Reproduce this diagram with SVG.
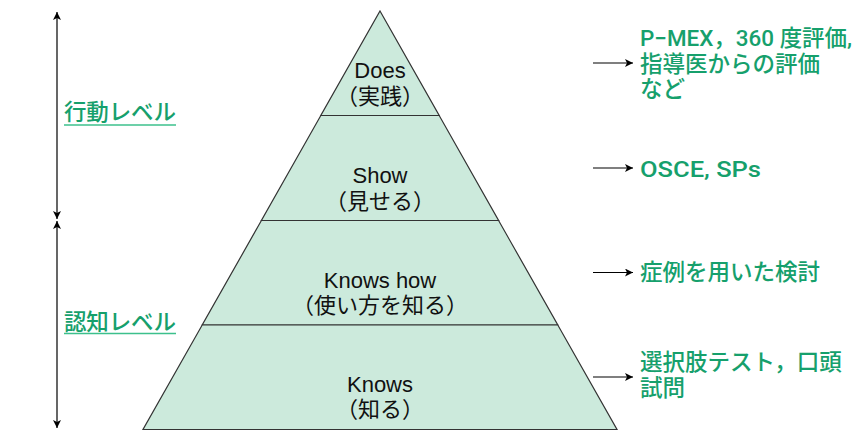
<svg xmlns="http://www.w3.org/2000/svg" width="855" height="431" viewBox="0 0 855 431">
<defs>
<marker id="ah" viewBox="0 0 10 10" refX="10" refY="5" markerWidth="8" markerHeight="8" markerUnits="userSpaceOnUse" orient="auto-start-reverse">
<path d="M0,0 L10,5 L0,10 L2.5,5 z" fill="#000"/>
</marker>
</defs>
<style>
.layer{fill:#cceadc;stroke:#333;stroke-width:1.2;stroke-linejoin:miter}
.lt{font-family:"Liberation Sans","Noto Sans CJK JP",sans-serif;font-size:22px;fill:#111;text-anchor:middle}
.gt{font-family:"Roboto","Noto Sans CJK JP",sans-serif;font-size:22.5px;fill:#16a06c;font-weight:500}
.ul{stroke:#3cc08c;stroke-width:1.3}
.con{stroke:#000;stroke-width:1.2;fill:none}
</style>
<rect width="855" height="431" fill="#fff"/>
<g id="layer-does">
<polygon class="layer" points="380,11 439.2,115.5 320.8,115.5"/>
<text class="lt" x="380" y="78">Does</text>
<text class="lt" x="380" y="104">（実践）</text>
</g>
<g id="layer-show">
<polygon class="layer" points="320.8,115.5 439.2,115.5 498.6,220.5 261.4,220.5"/>
<text class="lt" x="380" y="183">Show</text>
<text class="lt" x="380" y="208.5">（見せる）</text>
</g>
<g id="layer-knowshow">
<polygon class="layer" points="261.4,220.5 498.6,220.5 557.8,325 202.2,325"/>
<text class="lt" x="380" y="288">Knows how</text>
<text class="lt" x="380" y="313">（使い方を知る）</text>
</g>
<g id="layer-knows">
<polygon class="layer" points="202.2,325 557.8,325 617,429.5 143,429.5"/>
<text class="lt" x="380" y="392">Knows</text>
<text class="lt" x="380" y="417">（知る）</text>
</g>
<g id="label-action">
<text class="gt" x="64" y="120" textLength="112">行動レベル</text>
<line class="ul" x1="64" y1="125" x2="176" y2="125"/>
</g>
<g id="label-cognition">
<text class="gt" x="64" y="330" textLength="112">認知レベル</text>
<line class="ul" x1="64" y1="333.5" x2="176" y2="333.5"/>
</g>
<g id="eval-does">
<text class="gt" x="640" y="46" textLength="212" lengthAdjust="spacingAndGlyphs">P−MEX，360 度評価,</text>
<text class="gt" x="640" y="72">指導医からの評価</text>
<text class="gt" x="640" y="97">など</text>
</g>
<g id="eval-show">
<text class="gt" x="640" y="177" textLength="121" lengthAdjust="spacingAndGlyphs">OSCE, SPs</text>
</g>
<g id="eval-knowshow">
<text class="gt" x="640" y="280">症例を用いた検討</text>
</g>
<g id="eval-knows">
<text class="gt" x="640" y="370">選択肢テスト，口頭</text>
<text class="gt" x="640" y="396">試問</text>
</g>
<g id="connectors">
<line class="con" x1="57" y1="12" x2="57" y2="219" marker-start="url(#ah)" marker-end="url(#ah)"/>
<line class="con" x1="57" y1="221" x2="57" y2="428" marker-start="url(#ah)" marker-end="url(#ah)"/>
<line class="con" x1="593" y1="63" x2="633" y2="63" marker-end="url(#ah)"/>
<line class="con" x1="593" y1="168" x2="633" y2="168" marker-end="url(#ah)"/>
<line class="con" x1="593" y1="272.5" x2="633" y2="272.5" marker-end="url(#ah)"/>
<line class="con" x1="593" y1="377" x2="633" y2="377" marker-end="url(#ah)"/>
</g>
</svg>
